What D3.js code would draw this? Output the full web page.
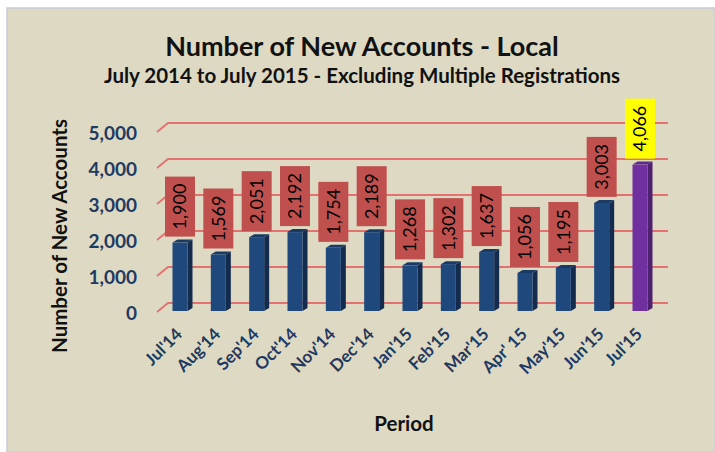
<!DOCTYPE html>
<html>
<head>
<meta charset="utf-8">
<script src="https://cdn.jsdelivr.net/npm/d3@7"></script>
<style>
  body { margin: 0; background: #fff; }
  svg text { font-family: Lato, "Open Sans", sans-serif; }
</style>
</head>
<body>
<div id="chart"></div>
<script>
// new accounts per month, Jul 2014 - Jul 2015
const width = 715,
    height = 452;

const periods = ["Jul'14", "Aug'14", "Sep'14", "Oct'14", "Nov'14", "Dec'14", "Jan'15",
    "Feb'15", "Mar'15", "Apr' 15", "May'15", "Jun'15", "Jul'15"];
const accounts = [1900, 1569, 2051, 2192, 1754, 2189, 1268, 1302, 1637, 1056, 1195, 3003, 4066];
const yTicks = [0, 1000, 2000, 3000, 4000, 5000];

const data = periods.map((p, i) => ({ period: p, count: accounts[i], last: i === periods.length - 1 }));

let svg = d3.select("#chart")
    .append("svg")
    .attr("width", width)
    .attr("height", height);

// chart area background
svg.append("rect")
    .attr("x", 7).attr("y", 8)
    .attr("width", width - 7).attr("height", height - 8)
    .attr("fill", "#ddd9c3")
    .attr("stroke", "#c9cbd6")
    .attr("stroke-width", 1.5);

let x = d3.scalePoint()
    .domain(periods)
    .range([180, 640]);

let y = d3.scaleLinear()
    .domain([0, 5000])
    .range([311, 131]);

const depth = { dx: 11, dy: -8 }; // back wall offset
const barW = 15, side = 5, topD = 3;

// gridlines on the back wall, with the little diagonal on the floor edge
let grid = svg.append("g");
grid.selectAll("path")
    .data(yTicks)
    .join("path")
    .attr("d", d => `M157,${y(d) + 1}L${157 + depth.dx},${y(d) + depth.dy}H668`)
    .attr("fill", "none")
    .attr("stroke", "#e2716f")
    .attr("stroke-width", 1.8);

// y tick labels
svg.append("g")
    .selectAll("text")
    .data(yTicks)
    .join("text")
    .attr("x", 137)
    .attr("y", d => y(d) + 2)
    .attr("dy", "0.35em")
    .attr("text-anchor", "end")
    .attr("font-size", 19)
    .attr("font-weight", "bold")
    .attr("fill", "#1f3a60")
    .text(d => d3.format(",")(d));

// bars (front, side, top)
let bars = svg.append("g")
    .selectAll("g")
    .data(data)
    .join("g");

bars.append("path")
    .attr("d", d => {
        let x1 = x(d.period) + barW / 2, y0 = y(d.count), y1 = y(0);
        return `M${x1},${y0}L${x1 + side},${y0 - topD}V${y1 - topD}L${x1},${y1}Z`;
    })
    .attr("fill", d => d.last ? "#4f2270" : "#132c4d");

bars.append("path")
    .attr("d", d => {
        let x0 = x(d.period) - barW / 2, y0 = y(d.count);
        return `M${x0},${y0}L${x0 + side},${y0 - topD}H${x0 + barW + side}L${x0 + barW},${y0}Z`;
    })
    .attr("fill", d => d.last ? "#5e2a88" : "#1a3a64");

bars.append("rect")
    .attr("x", d => x(d.period) - barW / 2)
    .attr("y", d => y(d.count))
    .attr("width", barW)
    .attr("height", d => y(0) - y(d.count))
    .attr("fill", d => d.last ? "#7030a0" : "#1f497d");

// value labels in boxes above the bars
const boxW = 30, boxH = 60;
let labels = svg.append("g")
    .selectAll("g")
    .data(data)
    .join("g")
    .attr("transform", d => `translate(${x(d.period)},${y(d.count) - 6})`);

labels.append("rect")
    .attr("x", -boxW / 2)
    .attr("y", -boxH)
    .attr("width", boxW)
    .attr("height", boxH)
    .attr("fill", d => d.last ? "#ffff00" : "#c0504d");

labels.append("text")
    .attr("transform", `translate(0,${-boxH / 2}) rotate(-90)`)
    .attr("text-anchor", "middle")
    .attr("dy", "0.35em")
    .attr("font-size", 18)
    .attr("fill", "#000")
    .text(d => d3.format(",")(d.count));

// x tick labels, rotated
svg.append("g")
    .selectAll("text")
    .data(periods)
    .join("text")
    .attr("transform", d => `translate(${x(d) - 1},${331}) rotate(-45)`)
    .attr("text-anchor", "end")
    .attr("dy", "0.35em")
    .attr("font-size", 17)
    .attr("font-weight", "bold")
    .attr("fill", "#1f3a60")
    .text(d => d);

// titles
svg.append("text")
    .attr("x", 362)
    .attr("y", 56)
    .attr("text-anchor", "middle")
    .attr("font-size", 27)
    .attr("font-weight", "bold")
    .attr("fill", "#111")
    .text("Number of New Accounts - Local");

svg.append("text")
    .attr("x", 362)
    .attr("y", 83)
    .attr("text-anchor", "middle")
    .attr("font-size", 20.5)
    .attr("font-weight", "bold")
    .attr("fill", "#111")
    .text("July 2014 to July 2015 - Excluding Multiple Registrations");

svg.append("text")
    .attr("transform", "translate(67,236) rotate(-90)")
    .attr("text-anchor", "middle")
    .attr("font-size", 20.5)
    .attr("font-weight", "bold")
    .attr("fill", "#111")
    .text("Number of New Accounts");

svg.append("text")
    .attr("x", 404)
    .attr("y", 431)
    .attr("text-anchor", "middle")
    .attr("font-size", 20.5)
    .attr("font-weight", "bold")
    .attr("fill", "#111")
    .text("Period");
</script>
</body>
</html>
